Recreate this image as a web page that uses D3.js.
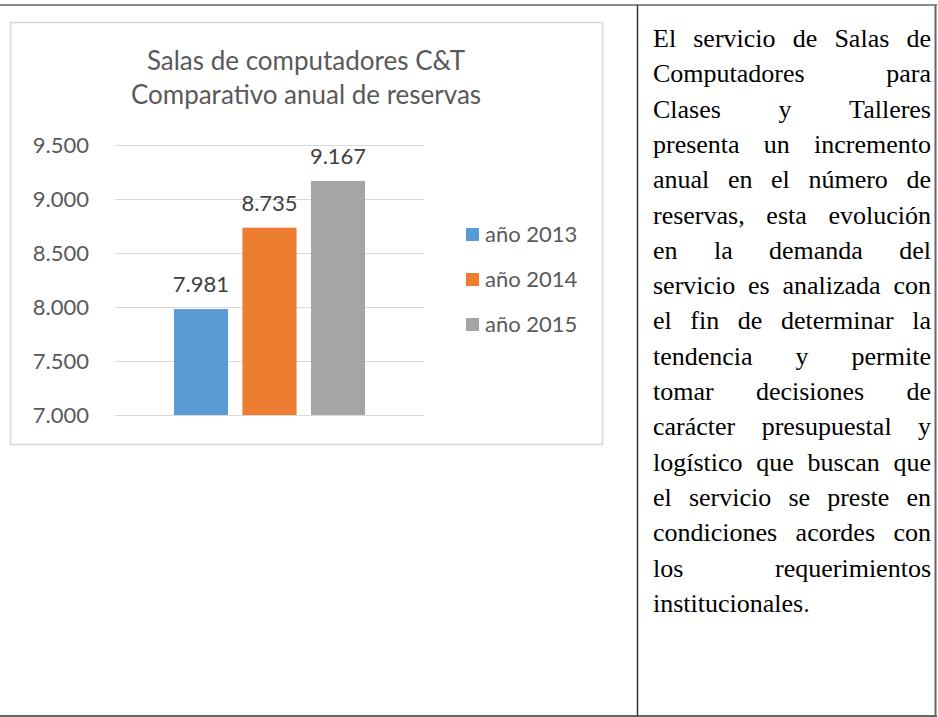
<!DOCTYPE html>
<html>
<head>
<meta charset="utf-8">
<script src="https://cdn.jsdelivr.net/npm/d3@7"></script>
<style>
  body { margin: 0; background: #fff; }
</style>
</head>
<body>
<div id="chart"></div>
<script>
// data
var series = ["año 2013", "año 2014", "año 2015"]
var reservas = [7981, 8735, 9167]
var colors = ["#5B9BD5", "#ED7D31", "#A5A5A5"]
var yTicks = [7000, 7500, 8000, 8500, 9000, 9500]
var titleLines = ["Salas de computadores C&T", "Comparativo anual de reservas"]
var paragraph = [
  "El servicio de Salas de",
  "Computadores para",
  "Clases y Talleres",
  "presenta un incremento",
  "anual en el número de",
  "reservas, esta evolución",
  "en la demanda del",
  "servicio es analizada con",
  "el fin de determinar la",
  "tendencia y permite",
  "tomar decisiones de",
  "carácter presupuestal y",
  "logístico que buscan que",
  "el servicio se preste en",
  "condiciones acordes con",
  "los requerimientos",
  "institucionales."
]

var width = 938
var height = 717

var es = d3.formatLocale({decimal: ",", thousands: ".", grouping: [3], currency: ["$", ""]})
var fmt = es.format(",d")

var svg = d3.select("#chart")
  .append("svg")
    .attr("width", width)
    .attr("height", height)

// table borders
svg.append("line").attr("x1", 0).attr("x2", 937).attr("y1", 5).attr("y2", 5)
  .attr("stroke", "#666").attr("stroke-width", 1.5)
svg.append("line").attr("x1", 0).attr("x2", 937).attr("y1", 716).attr("y2", 716)
  .attr("stroke", "#333").attr("stroke-width", 1.5)
svg.append("line").attr("x1", 637.5).attr("x2", 637.5).attr("y1", 5).attr("y2", 716)
  .attr("stroke", "#333").attr("stroke-width", 1.5)
svg.append("line").attr("x1", 935.5).attr("x2", 935.5).attr("y1", 5).attr("y2", 716)
  .attr("stroke", "#666").attr("stroke-width", 2)

// chart frame
svg.append("rect")
    .attr("x", 10.5).attr("y", 22.5)
    .attr("width", 592).attr("height", 422)
    .attr("fill", "#fff")
    .attr("stroke", "#d6d6d6")
    .attr("stroke-width", 1.5)

var chartFont = "Lato, 'Open Sans', sans-serif"

// title
svg.append("g")
    .attr("font-family", chartFont)
    .attr("font-size", 26)
    .attr("fill", "#595959")
    .attr("text-anchor", "middle")
  .selectAll("text")
  .data(titleLines)
  .join("text")
    .attr("x", 306)
    .attr("y", (d, i) => 70 + i * 34)
    .text(d => d)

// scales
var y = d3.scaleLinear()
    .domain([7000, 9500])
    .range([415, 145])

var x = d3.scaleBand()
    .domain(series)
    .range([115, 424])
    .paddingInner(0.21)
    .paddingOuter(0.86)

// gridlines + y labels
var yAxis = d3.axisLeft(y)
    .tickValues(yTicks)
    .tickFormat(fmt)
    .tickSize(-(424 - 115))
    .tickPadding(26)

var gy = svg.append("g")
    .attr("transform", "translate(115,0)")
    .call(yAxis)
gy.select(".domain").remove()
gy.selectAll(".tick line").attr("stroke", "#d9d9d9")
gy.selectAll(".tick text")
    .attr("font-family", chartFont)
    .attr("font-size", 22)
    .attr("fill", "#595959")
    .attr("dy", "0.36em")

// bars
svg.append("g")
  .selectAll("rect")
  .data(reservas)
  .join("rect")
    .attr("x", (d, i) => x(series[i]))
    .attr("y", d => y(d))
    .attr("width", x.bandwidth())
    .attr("height", d => y(7000) - y(d))
    .attr("fill", (d, i) => colors[i])

// value labels
svg.append("g")
    .attr("font-family", chartFont)
    .attr("font-size", 22)
    .attr("fill", "#404040")
    .attr("text-anchor", "middle")
  .selectAll("text")
  .data(reservas)
  .join("text")
    .attr("x", (d, i) => x(series[i]) + x.bandwidth() / 2)
    .attr("y", d => y(d) - 17)
    .text(d => fmt(d))

// legend
var legend = svg.append("g")
    .attr("font-family", chartFont)
    .attr("font-size", 22)
    .attr("fill", "#595959")
  .selectAll("g")
  .data(series)
  .join("g")
    .attr("transform", (d, i) => "translate(466," + (242 + i * 45) + ")")

legend.append("rect")
    .attr("x", 0).attr("y", -14)
    .attr("width", 13).attr("height", 13)
    .attr("fill", (d, i) => colors[i])

legend.append("text")
    .attr("x", 19)
    .text(d => d)

// justified paragraph in the right cell
var left = 653, right = 931, lineH = 35.3, base = 47

var para = svg.append("g")
    .attr("font-family", "'Liberation Serif', 'Times New Roman', serif")
    .attr("font-size", 26)
    .attr("fill", "#000")

paragraph.forEach(function(line, li) {
  var words = line.split(" ")
  var yy = base + li * lineH
  var nodes = words.map(w => para.append("text").attr("y", yy).text(w))
  var widths = nodes.map(n => n.node().getComputedTextLength())
  var total = d3.sum(widths)
  var last = li === paragraph.length - 1
  var gap = (last || words.length < 2) ? 26 * 0.25 : (right - left - total) / (words.length - 1)
  var cx = left
  nodes.forEach(function(n, i) {
    n.attr("x", cx)
    cx += widths[i] + gap
  })
})
</script>
</body>
</html>
